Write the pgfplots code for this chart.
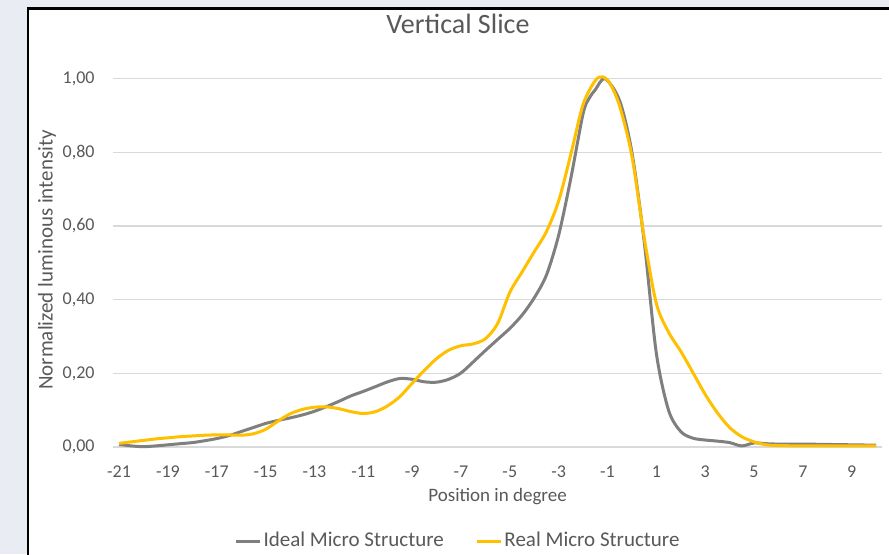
\documentclass[border=0pt]{standalone}
\usepackage{pgfplots}
\pgfplotsset{compat=1.18}
\usepackage{fontspec}
\setmainfont{Carlito}
\definecolor{txt}{HTML}{595959}
\definecolor{gridc}{HTML}{D9D9D9}
\definecolor{ideal}{HTML}{7F7F7F}
\definecolor{real}{HTML}{FFC000}
\definecolor{bg}{HTML}{E9EDF3}
\begin{document}
\begin{tikzpicture}
\useasboundingbox (0,0) rectangle (444.5pt,-277pt);
\fill[bg] (0,0) rectangle (444.5pt,-277pt);
\fill[white] (14pt,-4.3pt) rectangle (446pt,-279pt);
\draw[black, line width=1.2pt] (14pt,-279pt) -- (14pt,-4.3pt) -- (446pt,-4.3pt);
\begin{axis}[
  at={(56.5pt,-223.5pt)}, anchor=south west,
  scale only axis, width=384.6pt, height=189.67pt,
  xmin=-21.25, xmax=10.25, ymin=0, ymax=1.03,
  clip=false,
  axis lines*=left,
  y axis line style={draw=none},
  x axis line style={draw=gridc, line width=0.6pt},
  ytick={0,0.2,0.4,0.6,0.8,1.0},
  ymajorgrids, major grid style={draw=gridc, line width=0.6pt},
  ytick style={draw=none},
  xtick={-21,-19,-17,-15,-13,-11,-9,-7,-5,-3,-1,1,3,5,7,9},
  xticklabels={-21,-19,-17,-15,-13,-11,-9,-7,-5,-3,-1,1,3,5,7,9},
  xtick style={draw=none},
  extra x ticks={-21.25,-19.25,-17.25,-15.25,-13.25,-11.25,-9.25,-7.25,-5.25,-3.25,-1.25,0.75,2.75,4.75,6.75,8.75},
  extra x tick labels={},
  extra x tick style={xmajorgrids=false, tick align=outside, major tick length=2.5pt,
    tick style={draw=gridc, line width=0.6pt}},
  /pgf/number format/fixed, /pgf/number format/fixed zerofill, /pgf/number format/precision=2,
  /pgf/number format/use comma, /pgf/number format/assume math mode=true,
  yticklabel style={inner sep=0pt, xshift=-9pt, anchor=east, font=\fontsize{9}{10}\selectfont, text=txt},
  xticklabel style={inner sep=0pt, anchor=base, yshift=-15pt, font=\fontsize{9}{10}\selectfont, text=txt},
  title={Vertical Slice},
  every axis title shift=0pt,
  title style={at={(rel axis cs:0.4485,1.0889)}, anchor=base, yshift=0pt, inner sep=0pt, font=\fontsize{14}{16}\selectfont, text=txt},
  xlabel={Position in degree},
  xlabel style={at={(rel axis cs:0.5,-0.1424)}, anchor=base, inner sep=0pt, font=\fontsize{9.5}{11}\selectfont, text=txt},
  ylabel={Normalized luminous intensity},
  ylabel style={at={(rel axis cs:-0.0858,0.493)}, anchor=center, inner sep=0pt, font=\fontsize{10.5}{12}\selectfont, text=txt},
  legend columns=2,
  legend image code/.code={\draw[#1] (0pt,0pt) -- (12pt,0pt);},
  legend style={at={(rel axis cs:0.158,-0.248)}, anchor=west, draw=none, fill=none,
    inner sep=0pt, nodes={inner sep=0pt, text depth=0.15em}, font=\fontsize{10.5}{12}\selectfont, text=txt,
    /tikz/every odd column/.append style={column sep=0.8pt},
    /tikz/every even column/.append style={column sep=16pt}},
  legend cell align=left,
]
\addplot[ideal, line width=1.5pt, smooth, tension=0.5] coordinates {
(-21,0.007) (-20.5,0.003) (-20,0.001) (-19.5,0.003) (-19,0.006) (-18.5,0.009) (-18,0.012) (-17.5,0.017) (-17,0.023) (-16.5,0.031) (-16,0.042) (-15.5,0.053) (-15,0.064) (-14.5,0.072) (-14,0.079) (-13.5,0.087) (-13,0.097) (-12.5,0.110) (-12,0.124) (-11.5,0.139) (-11,0.151) (-10.5,0.164) (-10,0.177) (-9.5,0.186) (-9,0.184) (-8.5,0.177) (-8,0.176) (-7.5,0.184) (-7,0.201) (-6.5,0.231) (-6,0.262) (-5.5,0.292) (-5,0.322) (-4.5,0.358) (-4,0.405) (-3.5,0.467) (-3,0.575) (-2.5,0.730) (-2,0.905) (-1.75,0.947) (-1.5,0.970) (-1.1,1.000) (-0.5,0.940) (0,0.800) (0.5,0.560) (1,0.255) (1.5,0.100) (2,0.042) (2.5,0.024) (3,0.019) (3.5,0.016) (4,0.012) (4.5,0.003) (5,0.011) (5.5,0.009) (6,0.008) (7,0.008) (8,0.007) (9,0.006) (10,0.005)
};
\addlegendentry{Ideal Micro Structure}
\addplot[real, line width=1.5pt, smooth, tension=0.5] coordinates {
(-21,0.010) (-20.5,0.014) (-20,0.018) (-19.5,0.022) (-19,0.025) (-18.5,0.028) (-18,0.030) (-17.5,0.032) (-17,0.033) (-16.5,0.033) (-16,0.032) (-15.5,0.036) (-15,0.048) (-14.5,0.070) (-14,0.090) (-13.5,0.102) (-13,0.108) (-12.5,0.109) (-12,0.104) (-11.5,0.096) (-11,0.091) (-10.5,0.096) (-10,0.112) (-9.5,0.137) (-9,0.173) (-8.5,0.208) (-8,0.240) (-7.5,0.263) (-7,0.275) (-6.5,0.280) (-6,0.294) (-5.5,0.335) (-5,0.420) (-4.5,0.475) (-4,0.530) (-3.5,0.585) (-3,0.668) (-2.5,0.795) (-2,0.930) (-1.5,0.995) (-1.2,1.005) (-0.9,0.987) (-0.5,0.925) (0,0.790) (0.5,0.570) (1,0.390) (1.5,0.312) (2,0.260) (2.5,0.202) (3,0.143) (3.5,0.093) (4,0.053) (4.5,0.028) (5,0.014) (5.5,0.006) (6,0.004) (7,0.003) (8,0.003) (9,0.003) (10,0.003)
};
\addlegendentry{Real Micro Structure}
\end{axis}
\end{tikzpicture}
\end{document}
